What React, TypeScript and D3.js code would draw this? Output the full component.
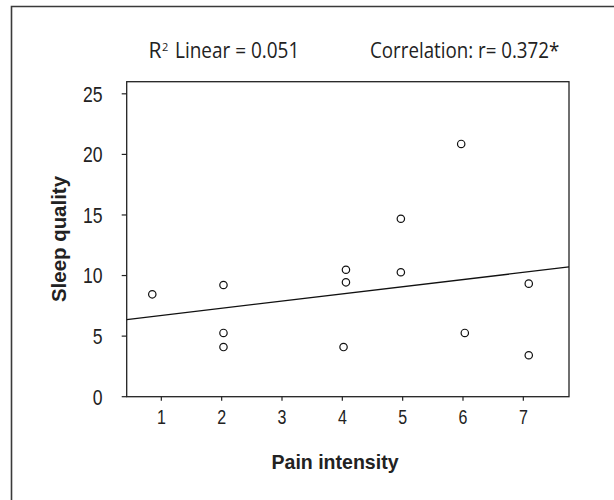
import React from "react";
import * as d3 from "d3";

const painIntensity = [0.85, 2.03, 2.03, 2.03, 4.06, 4.06, 4.02, 5.97, 4.97, 4.97, 7.09, 6.03, 7.09];
const sleepQuality = [8.45, 9.22, 5.26, 4.1, 10.48, 9.44, 4.1, 20.86, 14.69, 10.27, 9.33, 5.26, 3.42];
const xTicks = [1, 2, 3, 4, 5, 6, 7];
const yTicks = [0, 5, 10, 15, 20, 25];
const fitIntercept = 6.11;
const fitSlope = 0.593;
const r2Text = "Linear = 0.051";
const corrText = "Correlation: r= 0.372*";
const xLabel = "Pain intensity";
const yLabel = "Sleep quality";

const W = 614;
const H = 500;
const plot = { left: 126.7, top: 81.7, right: 569, bottom: 396.7 };

const tickFont = "'Liberation Sans', Arial, sans-serif";
const titleFont = "'Open Sans', 'Noto Sans', sans-serif";
const SX = 0.8;

export default function App() {
  const x = d3.scaleLinear().domain([0.426, 7.757]).range([plot.left, plot.right]);
  const y = d3.scaleLinear().domain([0, 26]).range([plot.bottom, plot.top]);
  const xDom = x.domain();
  const line = d3
    .line<number>()
    .x((d) => x(d))
    .y((d) => y(fitIntercept + fitSlope * d));

  return (
    <svg
      width={W}
      height={H}
      style={{ position: "absolute", left: 0, top: 0, background: "#fff" }}
    >
      <rect x={0} y={0} width={W} height={H} fill="#fff" />
      {/* outer frame (top + left) */}
      <path d={`M11.5,${H} L11.5,6.5 L${W},6.5`} fill="none" stroke="#3a3a3a" strokeWidth={1.6} />

      {/* title annotations */}
      <text x={148.5} y={58.3} fontFamily={titleFont} fontSize={21} fill="#222">
        <tspan>R</tspan>
        <tspan dx={0.5} dy={-7.3} fontSize={11}>2</tspan>
        <tspan x={175} dy={7.3} textLength={124.3} lengthAdjust="spacingAndGlyphs">
          {r2Text}
        </tspan>
      </text>
      <text
        x={370}
        y={58.3}
        fontFamily={titleFont}
        fontSize={21}
        fill="#222"
        textLength={189.3}
        lengthAdjust="spacingAndGlyphs"
      >
        {corrText}
      </text>

      {/* plot frame */}
      <rect
        x={plot.left}
        y={plot.top}
        width={plot.right - plot.left}
        height={plot.bottom - plot.top}
        fill="none"
        stroke="#222"
        strokeWidth={1.3}
      />

      {/* y ticks */}
      {yTicks.map((t) => (
        <g key={"y" + t}>
          <line x1={plot.left - 5} x2={plot.left} y1={y(t)} y2={y(t)} stroke="#222" strokeWidth={1.2} />
          <g transform={`translate(102.5, ${y(t)}) scale(${SX}, 1)`}>
            <text x={0} y={0} dy="0.36em" textAnchor="end" fontFamily={tickFont} fontSize={22} fill="#222">
              {t}
            </text>
          </g>
        </g>
      ))}

      {/* x ticks */}
      {xTicks.map((t) => (
        <g key={"x" + t}>
          <line x1={x(t)} x2={x(t)} y1={plot.bottom} y2={plot.bottom + 4} stroke="#222" strokeWidth={1.2} />
          <g transform={`translate(${x(t)}, 424.3) scale(${SX}, 1)`}>
            <text x={0} y={0} textAnchor="middle" fontFamily={tickFont} fontSize={20} fill="#222">
              {t}
            </text>
          </g>
        </g>
      ))}

      {/* axis labels */}
      <text
        x={335}
        y={469}
        textAnchor="middle"
        fontFamily={tickFont}
        fontWeight="bold"
        fontSize={20.5}
        fill="#222"
        textLength={127}
        lengthAdjust="spacingAndGlyphs"
      >
        {xLabel}
      </text>
      <text
        transform={`translate(65.7, 239) rotate(-90)`}
        textAnchor="middle"
        fontFamily={tickFont}
        fontWeight="bold"
        fontSize={20.5}
        fill="#222"
        textLength={126}
        lengthAdjust="spacingAndGlyphs"
      >
        {yLabel}
      </text>

      {/* fit line */}
      <path d={line([xDom[0], xDom[1]]) || ""} fill="none" stroke="#111" strokeWidth={1.3} />

      {/* points */}
      {painIntensity.map((px, i) => (
        <circle
          key={"p" + i}
          cx={x(px)}
          cy={y(sleepQuality[i])}
          r={3.7}
          fill="#fff"
          stroke="#111"
          strokeWidth={1.2}
        />
      ))}
    </svg>
  );
}
